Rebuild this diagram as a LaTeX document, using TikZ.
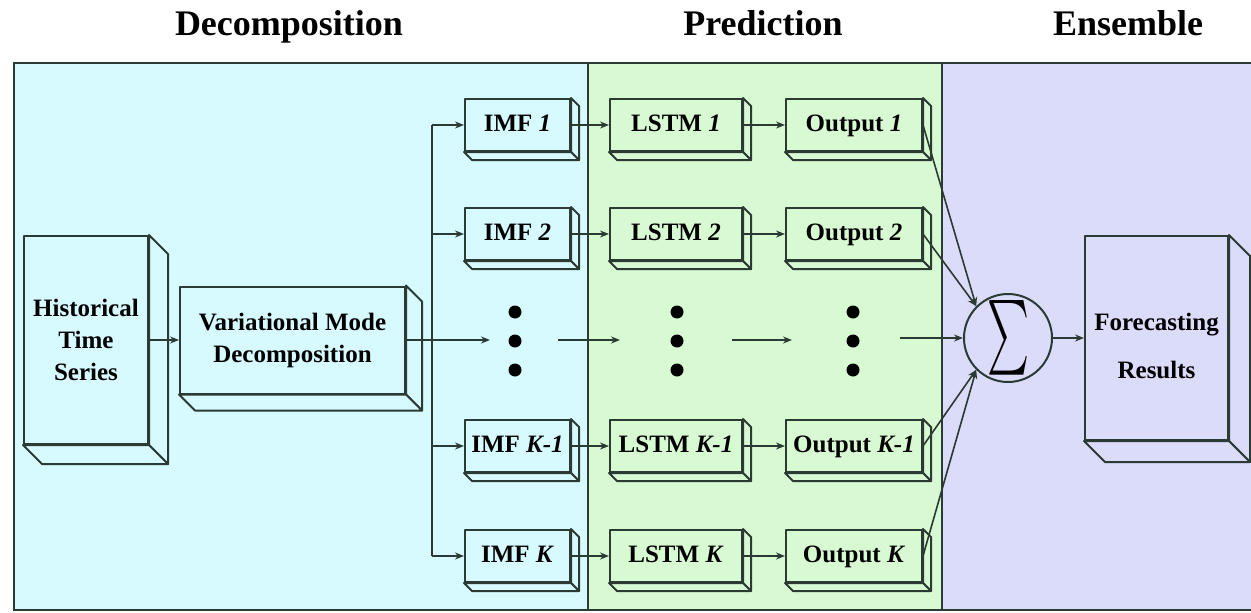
\documentclass[tikz,border=0pt]{standalone}
\usepackage{fontspec}
\setmainfont{Liberation Serif}
\usepackage{graphicx}
\usetikzlibrary{arrows.meta}
\definecolor{ink}{HTML}{2C3A34}
\definecolor{pblue}{HTML}{D6FAFF}
\definecolor{pgreen}{HTML}{D8FAD2}
\definecolor{ppurple}{HTML}{DBDBFA}
\tikzset{
  edge/.style={draw=ink, line width=2pt, line join=round},
  front/.style={edge, inner sep=0pt, align=center, font=\fontsize{25}{32}\selectfont\bfseries},
  rowbox/.style={front, minimum height=52pt, text height=17pt, text depth=5pt},
  conn/.style={draw=ink, line width=1.6pt, -{Stealth[length=9pt,width=7pt]}},
  plain/.style={draw=ink, line width=1.6pt},
  title/.style={anchor=base, font=\fontsize{36}{40}\selectfont\bfseries}
}
% side and bottom faces of an extruded box
\newcommand\xtrude[3]{%
  \filldraw[edge, fill=#3] (#1.north east) -- ++(#2,#2) -- ([shift={(#2,#2)}]#1.south east) -- (#1.south east) -- cycle;
  \filldraw[edge, fill=#3] (#1.south west) -- ++(#2,#2) -- ([shift={(#2,#2)}]#1.south east) -- (#1.south east) -- cycle;}
\begin{document}
\begin{tikzpicture}[x=1pt, y=-1pt]
\useasboundingbox (0,0) rectangle (1251,613);
% panels
\fill[pblue] (14,63) rectangle (588,610);
\fill[pgreen] (588,63) rectangle (942,610);
\fill[ppurple] (942,63) rectangle (1260,610);
\draw[ink, line width=2.5pt] (1260,63) -- (14,63) -- (14,610) -- (1260,610);
\draw[ink, line width=2pt] (588,63) -- (588,610);
\draw[ink, line width=2pt] (942,63) -- (942,610);
% titles
\node[title] (t1) at (289,35) {Decomposition};
\node[title] (t2) at (763,35) {Prediction};
\node[title] (t3) at (1128,35) {Ensemble};
% big boxes
\node[front, fill=pblue, minimum width=124pt, minimum height=208pt] (hist) at (86,340) {Historical\\Time\\Series};
\xtrude{hist}{19}{pblue}
\node[front, fill=pblue, minimum width=225pt, minimum height=107pt] (vmd) at (292.5,340) {Variational Mode\\Decomposition};
\xtrude{vmd}{16}{pblue}
\node[front, fill=ppurple, minimum width=143pt, minimum height=204pt] (fr) at (1156.5,338) {};
\xtrude{fr}{21}{ppurple}
\node[align=center, inner sep=0pt, font=\fontsize{25}{48}\selectfont\bfseries] (frt) at (1156.5,346) {Forecasting\\Results};
% rows
\foreach \n/\y/\lab in {1/125/\textit{1}, 2/234/\textit{2}, 4/446/\textit{K-1}, 5/556/\textit{K}}{
  \node[rowbox, fill=pblue, minimum width=105pt] (imf\n) at (517.5,\y) {IMF \lab};
  \xtrude{imf\n}{8}{pblue}
  \node[rowbox, fill=pgreen, minimum width=132pt] (lstm\n) at (676,\y) {LSTM \lab};
  \xtrude{lstm\n}{8}{pgreen}
  \node[rowbox, fill=pgreen, minimum width=136pt] (out\n) at (854,\y) {Output \lab};
  \xtrude{out\n}{8}{pgreen}
}
% sigma
\node[circle, edge, fill=ppurple, minimum size=88pt, inner sep=0pt] (sig) at (1008,338) {\resizebox{42pt}{56pt}{$\sum$}};
% dots
\foreach \x in {515,677,853}{
  \foreach \yy in {312,341,370}{\fill[black] (\x,\yy) circle (6.5pt);}
}
% connectors
\draw[conn] (hist.east) -- (vmd.west);
\coordinate (br) at (432,340);
\coordinate (d1) at (490,340);
\draw[conn] (vmd.east) -- (d1);
\draw[plain] (br |- imf1.west) -- (br |- imf5.west);
\foreach \n in {1,2,4,5}{
  \draw[conn] (br |- imf\n.west) -- (imf\n.west);
  \draw[conn] (imf\n.east) -- (lstm\n.west);
  \draw[conn] (lstm\n.east) -- (out\n.west);
}
\coordinate (a2s) at (558,340); \coordinate (a2e) at (620,340);
\coordinate (a3s) at (732,340); \coordinate (a3e) at (792,340);
\coordinate (a4s) at (900,338);
\draw[conn] (a2s) -- (a2e);
\draw[conn] (a3s) -- (a3e);
\draw[conn] (a4s) -- (sig.west);
\draw[conn] (out1.east) -- (sig.135);
\draw[conn] (out2.east) -- (sig.135);
\draw[conn] (out4.east) -- (sig.225);
\draw[conn] (out5.east) -- (sig.225);
\draw[conn] (sig.east) -- (sig.east -| fr.west);
\end{tikzpicture}
\end{document}
